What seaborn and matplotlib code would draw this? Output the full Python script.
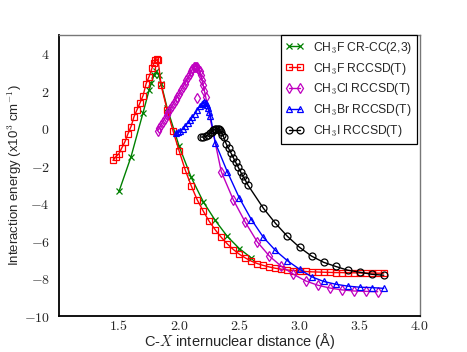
import seaborn as sns
import matplotlib.pyplot as plt
from matplotlib.ticker import FixedLocator, FixedFormatter

# CH3F CR-CC(2,3)
f_cc_x = [1.50, 1.60, 1.70, 1.75, 1.77, 1.79, 1.81, 1.83, 1.85, 1.90, 2.00, 2.10,
          2.20, 2.30, 2.40, 2.50, 2.60]
f_cc_y = [-3.35, -1.50, 0.85, 2.05, 2.45, 2.85, 3.05, 2.85, 2.40, 1.10, -0.95, -2.60,
          -3.90, -4.90, -5.75, -6.40, -6.90]

# CH3F RCCSD(T)
f_x = [1.45, 1.475, 1.50, 1.525, 1.55, 1.575, 1.60, 1.625, 1.65, 1.675, 1.70, 1.725,
       1.75, 1.775, 1.79, 1.80, 1.815, 1.825, 1.85, 1.90, 1.95, 2.00, 2.05, 2.10,
       2.15, 2.20, 2.25, 2.30, 2.35, 2.40, 2.45, 2.50, 2.55, 2.60, 2.65, 2.70,
       2.75, 2.80, 2.85, 2.90, 2.95, 3.00, 3.05, 3.10, 3.15, 3.20, 3.25, 3.30,
       3.35, 3.40, 3.45, 3.50, 3.55, 3.60, 3.65, 3.70]
f_y = [-1.70, -1.49, -1.33, -1.01, -0.69, -0.27, 0.11, 0.64, 1.01, 1.38, 1.76, 2.39,
       2.77, 3.24, 3.50, 3.68, 3.72, 3.65, 2.30, 1.00, -0.15, -1.20, -2.20, -3.05,
       -3.80, -4.40, -4.95, -5.40, -5.80, -6.15, -6.45, -6.70, -6.90, -7.07, -7.20, -7.30,
       -7.38, -7.45, -7.50, -7.54, -7.57, -7.60, -7.62, -7.64, -7.65, -7.66, -7.67, -7.68,
       -7.68, -7.69, -7.69, -7.70, -7.70, -7.70, -7.71, -7.71]

# CH3Cl RCCSD(T)
cl_x = [1.82, 1.835, 1.85, 1.865, 1.88, 1.895, 1.91, 1.925, 1.94, 1.955, 1.97, 1.985,
        2.00, 2.015, 2.03, 2.045, 2.06, 2.075, 2.09, 2.10, 2.11, 2.12, 2.13, 2.14,
        2.15, 2.16, 2.17, 2.18, 2.19, 2.20, 2.21, 2.22, 2.35, 2.45, 2.55, 2.65,
        2.75, 2.85, 2.95, 3.05, 3.15, 3.25, 3.35, 3.45, 3.55, 3.65]
cl_y = [-0.12, 0.03, 0.20, 0.37, 0.52, 0.70, 0.87, 1.02, 1.20, 1.37, 1.54, 1.70,
        1.87, 2.04, 2.22, 2.40, 2.57, 2.74, 2.90, 3.05, 3.17, 3.26, 3.30, 3.31,
        3.28, 3.20, 3.05, 2.85, 2.60, 2.30, 2.00, 1.70, -2.30, -3.80, -5.00, -6.05,
        -6.80, -7.35, -7.77, -8.12, -8.35, -8.50, -8.60, -8.66, -8.68, -8.70]
cl_extra_x = [2.145]
cl_extra_y = [1.65]

# CH3Br RCCSD(T)
br_x = [1.97, 1.99, 2.01, 2.03, 2.05, 2.07, 2.09, 2.11, 2.13, 2.15, 2.17, 2.19,
        2.20, 2.21, 2.22, 2.23, 2.24, 2.25, 2.26, 2.30, 2.40, 2.50, 2.60, 2.70,
        2.80, 2.90, 3.00, 3.10, 3.20, 3.30, 3.40, 3.50, 3.60, 3.70]
br_y = [-0.25, -0.20, -0.12, 0.00, 0.15, 0.30, 0.45, 0.62, 0.80, 1.00, 1.18, 1.32,
        1.38, 1.40, 1.37, 1.28, 1.12, 0.90, 0.65, -0.75, -2.30, -3.70, -4.85, -5.80,
        -6.50, -7.05, -7.50, -7.90, -8.15, -8.30, -8.40, -8.46, -8.48, -8.52]

# CH3I RCCSD(T)
i_x = [2.18, 2.20, 2.22, 2.24, 2.26, 2.27, 2.28, 2.29, 2.30, 2.31, 2.32, 2.33,
       2.34, 2.35, 2.36, 2.37, 2.39, 2.41, 2.43, 2.45, 2.47, 2.49, 2.51, 2.53,
       2.55, 2.57, 2.70, 2.80, 2.90, 3.00, 3.10, 3.20, 3.30, 3.40, 3.50, 3.60, 3.70]
i_y = [-0.45, -0.45, -0.42, -0.35, -0.25, -0.17, -0.10, -0.05, -0.02, 0.00, 0.00, -0.03,
       -0.10, -0.20, -0.32, -0.45, -0.80, -1.05, -1.30, -1.55, -1.80, -2.05, -2.30, -2.55,
       -2.75, -3.00, -4.25, -5.05, -5.75, -6.33, -6.80, -7.13, -7.35, -7.55, -7.66, -7.77, -7.82]

labels = ['CH$_3$F CR-CC(2,3)', 'CH$_3$F RCCSD(T)', 'CH$_3$Cl RCCSD(T)',
          'CH$_3$Br RCCSD(T)', 'CH$_3$I RCCSD(T)']
colors = ['#008000', '#ff0000', '#bf00bf', '#0000ff', '#000000']
markers = ['x', 's', 'd', '^', 'o']

xticks = [1.5, 2.0, 2.5, 3.0, 3.5, 4.0]
xticklabels = ['$1.5$', '$2.0$', '$2.5$', '$3.0$', '$3.5$', '$4.0$']
yticks = [-10, -8, -6, -4, -2, 0, 2, 4]
yticklabels = ['$-10$', '$-8$', '$-6$', '$-4$', '$-2$', '$0$', '$2$', '$4$']

sns.set_style("white")
plt.rcParams['font.family'] = ['Liberation Sans', 'DejaVu Sans']
plt.rcParams['mathtext.fontset'] = 'cm'

fig = plt.figure(figsize=(4.67, 3.52), dpi=100)
ax = fig.add_axes([0.126, 0.102, 0.773, 0.799])

series = [(f_cc_x, f_cc_y), (f_x, f_y), (cl_x, cl_y), (br_x, br_y), (i_x, i_y)]
for (xs, ys), lab, c, m in zip(series, labels, colors, markers):
    sns.lineplot(x=xs, y=ys, ax=ax, color=c, marker=m, markersize=5,
                 markerfacecolor='none', markeredgecolor=c, markeredgewidth=0.9,
                 linewidth=1.0, label=lab, sort=False, estimator=None)

# stray CH3Cl point
ax.plot(cl_extra_x, cl_extra_y, linestyle='none', marker='d', markersize=5,
        markerfacecolor='none', markeredgecolor=colors[2], markeredgewidth=0.9)

ax.set_xlim(1.0, 4.0)
ax.set_ylim(-10, 5)
ax.xaxis.set_major_locator(FixedLocator(xticks))
ax.xaxis.set_major_formatter(FixedFormatter(xticklabels))
ax.yaxis.set_major_locator(FixedLocator(yticks))
ax.yaxis.set_major_formatter(FixedFormatter(yticklabels))
ax.tick_params(axis='y', direction='inout', length=9, width=1.2, labelsize=10, pad=2)
ax.tick_params(axis='x', direction='in', length=5, width=1.2, labelsize=10, pad=2)

for side in ['left', 'bottom']:
    ax.spines[side].set_color('black')
    ax.spines[side].set_linewidth(1.3)
for side in ['top', 'right']:
    ax.spines[side].set_color('#777777')
    ax.spines[side].set_linewidth(1.0)

ax.set_xlabel('C-$X$ internuclear distance (Å)', fontsize=10.5, labelpad=-1)
ax.set_ylabel('Interaction energy (x10$^3$ cm$^{-1}$)', fontsize=9.5, labelpad=0)

leg = ax.legend(loc='upper right', bbox_to_anchor=(0.993, 1.0), borderaxespad=0,
                fontsize=8.7, fancybox=False, framealpha=1, edgecolor='black',
                handlelength=1.5, numpoints=2, labelspacing=0.4)
leg.get_frame().set_linewidth(0.9)

plt.savefig('out.png', dpi=100)
